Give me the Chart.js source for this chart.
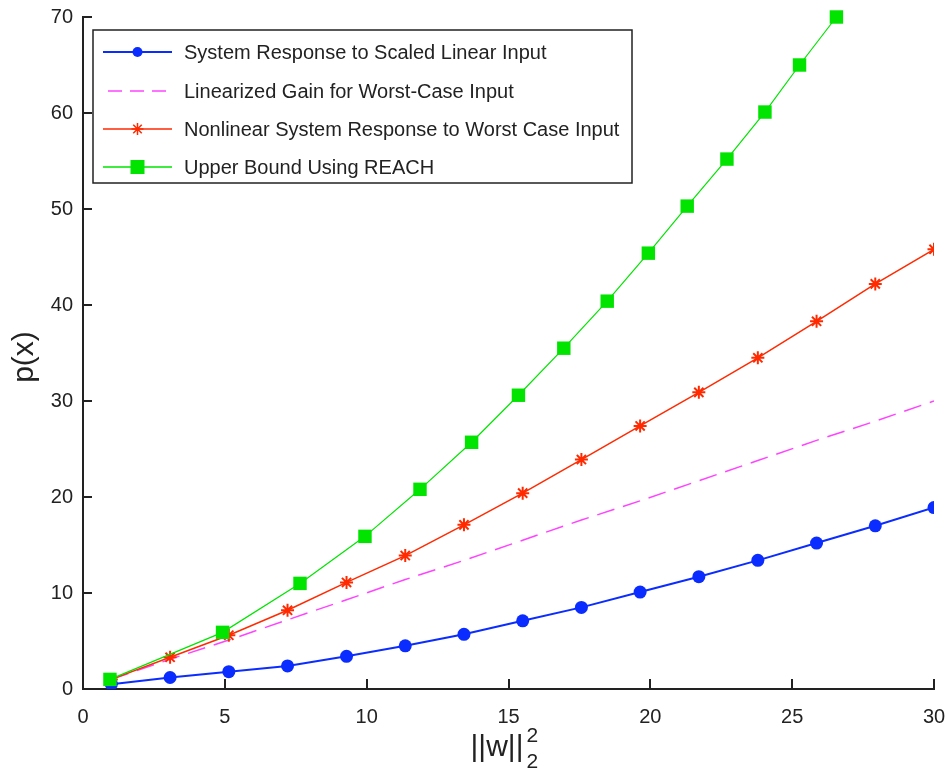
<!DOCTYPE html>
<html>
<head>
<meta charset="utf-8">
<script src="https://cdn.jsdelivr.net/npm/chart.js@4/dist/chart.umd.min.js"></script>
<style>
  html, body { margin: 0; padding: 0; background: #ffffff; }
  #wrap { width: 946px; height: 772px; position: relative; }
</style>
</head>
<body>
<div id="wrap"><canvas id="c" width="946" height="772"></canvas></div>
<script>
// ---- data ----
const seriesNames = [
  'System Response to Scaled Linear Input',
  'Linearized Gain for Worst-Case Input',
  'Nonlinear System Response to Worst Case Input',
  'Upper Bound Using REACH'
];
const xValues      = [1, 3.07, 5.14, 7.21, 9.29, 11.36, 13.43, 15.5, 17.57, 19.64, 21.71, 23.79, 25.86, 27.93, 30];
const linearResp   = [0.5, 1.2, 1.8, 2.4, 3.4, 4.5, 5.7, 7.1, 8.5, 10.1, 11.7, 13.4, 15.2, 17.0, 18.9];
const linearGain   = [1.0, 3.1, 5.1, 7.2, 9.3, 11.4, 13.4, 15.5, 17.6, 19.6, 21.7, 23.8, 25.9, 27.9, 30.0];
const nonlinResp   = [1.0, 3.3, 5.6, 8.2, 11.1, 13.9, 17.1, 20.4, 23.9, 27.4, 30.9, 34.5, 38.3, 42.2, 45.8];
const reachX       = [0.95, 4.92, 7.65, 9.94, 11.88, 13.7, 15.35, 16.95, 18.48, 19.93, 21.3, 22.7, 24.04, 25.26, 26.56];
const reachY       = [1.0, 5.9, 11.0, 15.9, 20.8, 25.7, 30.6, 35.5, 40.4, 45.4, 50.3, 55.2, 60.1, 65.0, 70.0];
const xTicks = [0, 5, 10, 15, 20, 25, 30];
const yTicks = [0, 10, 20, 30, 40, 50, 60, 70];

const pairs = (xs, ys) => xs.map((x, i) => ({x: x, y: ys[i]}));

const FONT = '"Liberation Sans", Arial, Helvetica, sans-serif';
const TXT = '#222222';
const BLUE = '#0a2cff', MAG = '#ff44ff', RED = '#ff2a00', GREEN = '#00e400';

function marker(ctx, style, x, y, r, color) {
  ctx.save();
  ctx.fillStyle = color; ctx.strokeStyle = color;
  if (style === 'circle') {
    ctx.beginPath(); ctx.arc(x, y, r, 0, Math.PI * 2); ctx.fill();
  } else if (style === 'rect') {
    ctx.fillRect(x - r, y - r, 2 * r, 2 * r);
  } else if (style === 'star') {
    ctx.lineWidth = 1.5;
    ctx.beginPath();
    for (let k = 0; k < 4; k++) {
      const a = k * Math.PI / 4;
      ctx.moveTo(x - r * Math.cos(a), y - r * Math.sin(a));
      ctx.lineTo(x + r * Math.cos(a), y + r * Math.sin(a));
    }
    ctx.stroke();
  }
  ctx.restore();
}

const decorPlugin = {
  id: 'decor',
  afterDraw(chart) {
    const ctx = chart.ctx;
    const xs = chart.scales.x, ys = chart.scales.y;
    const area = chart.chartArea;
    ctx.save();
    // inward ticks
    ctx.strokeStyle = TXT; ctx.lineWidth = 2;
    ctx.beginPath();
    xTicks.forEach(v => {
      const px = Math.round(xs.getPixelForValue(v));
      ctx.moveTo(px, area.bottom); ctx.lineTo(px, area.bottom - 10);
    });
    yTicks.forEach(v => {
      const py = Math.round(ys.getPixelForValue(v));
      ctx.moveTo(area.left, py); ctx.lineTo(area.left + 9, py);
    });
    ctx.stroke();

    // x title: ||w||_2^2
    ctx.fillStyle = TXT;
    ctx.textBaseline = 'alphabetic';
    ctx.textAlign = 'left';
    ctx.font = '30px ' + FONT;
    const main = '||w||';
    const w = ctx.measureText(main).width;
    const cx = 503;
    const x0 = cx - (w + 12) / 2;
    ctx.fillText(main, x0, 756);
    ctx.font = '21px ' + FONT;
    ctx.fillText('2', x0 + w + 3, 742);
    ctx.fillText('2', x0 + w + 3, 768);

    // y title
    ctx.save();
    ctx.translate(25, 357);
    ctx.rotate(-Math.PI / 2);
    ctx.font = '30px ' + FONT;
    ctx.textAlign = 'center';
    ctx.textBaseline = 'middle';
    ctx.fillText('p(x)', 0, 0);
    ctx.restore();

    // legend
    const bx = 93, by = 30, bw = 539, bh = 153;
    ctx.fillStyle = '#ffffff';
    ctx.fillRect(bx, by, bw, bh);
    ctx.strokeStyle = TXT; ctx.lineWidth = 1.5;
    ctx.strokeRect(bx, by, bw, bh);
    const rows = [52, 91, 129, 167];
    const specs = [
      {color: BLUE, width: 2, dash: [], style: 'circle', r: 5},
      {color: MAG, width: 1.5, dash: [14, 8], style: null, r: 0},
      {color: RED, width: 1.5, dash: [], style: 'star', r: 6},
      {color: GREEN, width: 1.5, dash: [], style: 'rect', r: 7}
    ];
    specs.forEach((s, i) => {
      const y = rows[i];
      ctx.save();
      ctx.strokeStyle = s.color; ctx.lineWidth = s.width;
      ctx.setLineDash(s.dash);
      ctx.beginPath();
      if (s.dash.length) { ctx.moveTo(108, y); } else { ctx.moveTo(103, y); }
      ctx.lineTo(172, y); ctx.stroke();
      ctx.restore();
      if (s.style) marker(ctx, s.style, 137.5, y, s.r, s.color);
      ctx.fillStyle = TXT;
      ctx.font = '20px ' + FONT;
      ctx.textAlign = 'left';
      ctx.textBaseline = 'middle';
      ctx.fillText(seriesNames[i], 184, y + 1);
    });
    ctx.restore();
  }
};

new Chart(document.getElementById('c'), {
  type: 'scatter',
  data: {
    datasets: [
      {
        label: seriesNames[0], data: pairs(xValues, linearResp), showLine: true,
        borderColor: BLUE, backgroundColor: BLUE, borderWidth: 2,
        pointStyle: 'circle', pointRadius: 6.5, pointBorderWidth: 0, order: 3
      },
      {
        label: seriesNames[1], data: pairs(xValues, linearGain), showLine: true,
        borderColor: MAG, backgroundColor: MAG, borderWidth: 1.5, borderDash: [18, 9],
        pointRadius: 0, order: 2
      },
      {
        label: seriesNames[2], data: pairs(xValues, nonlinResp), showLine: true,
        borderColor: RED, backgroundColor: RED, borderWidth: 1.5,
        pointStyle: 'star', pointRadius: 6.5, pointBorderWidth: 2, pointBorderColor: RED, order: 1
      },
      {
        label: seriesNames[3], data: pairs(reachX, reachY), showLine: true,
        borderColor: GREEN, backgroundColor: GREEN, borderWidth: 1.2,
        pointStyle: 'rect', pointRadius: 9.5, pointBorderWidth: 0, order: 0, clip: false
      }
    ]
  },
  options: {
    responsive: false,
    animation: false,
    devicePixelRatio: 1,
    layout: { padding: 0 },
    plugins: { legend: { display: false }, tooltip: { enabled: false } },
    elements: { line: { tension: 0 } },
    scales: {
      x: {
        type: 'linear', min: 0, max: 30,
        afterBuildTicks: s => { s.ticks = xTicks.map(v => ({value: v})); },
        ticks: { color: TXT, font: { family: FONT, size: 20 }, padding: 16, maxRotation: 0 },
        grid: { display: true, drawOnChartArea: false, drawTicks: false, color: 'rgba(0,0,0,0)' },
        border: { display: true, color: TXT, width: 2 },
        afterFit: s => { s.height = 83; s.paddingLeft = 0; s.paddingRight = 12; }
      },
      y: {
        type: 'linear', min: 0, max: 70,
        afterBuildTicks: s => { s.ticks = yTicks.map(v => ({value: v})); },
        ticks: { color: TXT, font: { family: FONT, size: 20 }, padding: 10 },
        grid: { display: true, drawOnChartArea: false, drawTicks: false, color: 'rgba(0,0,0,0)' },
        border: { display: true, color: TXT, width: 2 },
        afterFit: s => { s.width = 83; s.paddingTop = 17; s.paddingBottom = 0; }
      }
    }
  },
  plugins: [decorPlugin]
});
</script>
</body>
</html>
